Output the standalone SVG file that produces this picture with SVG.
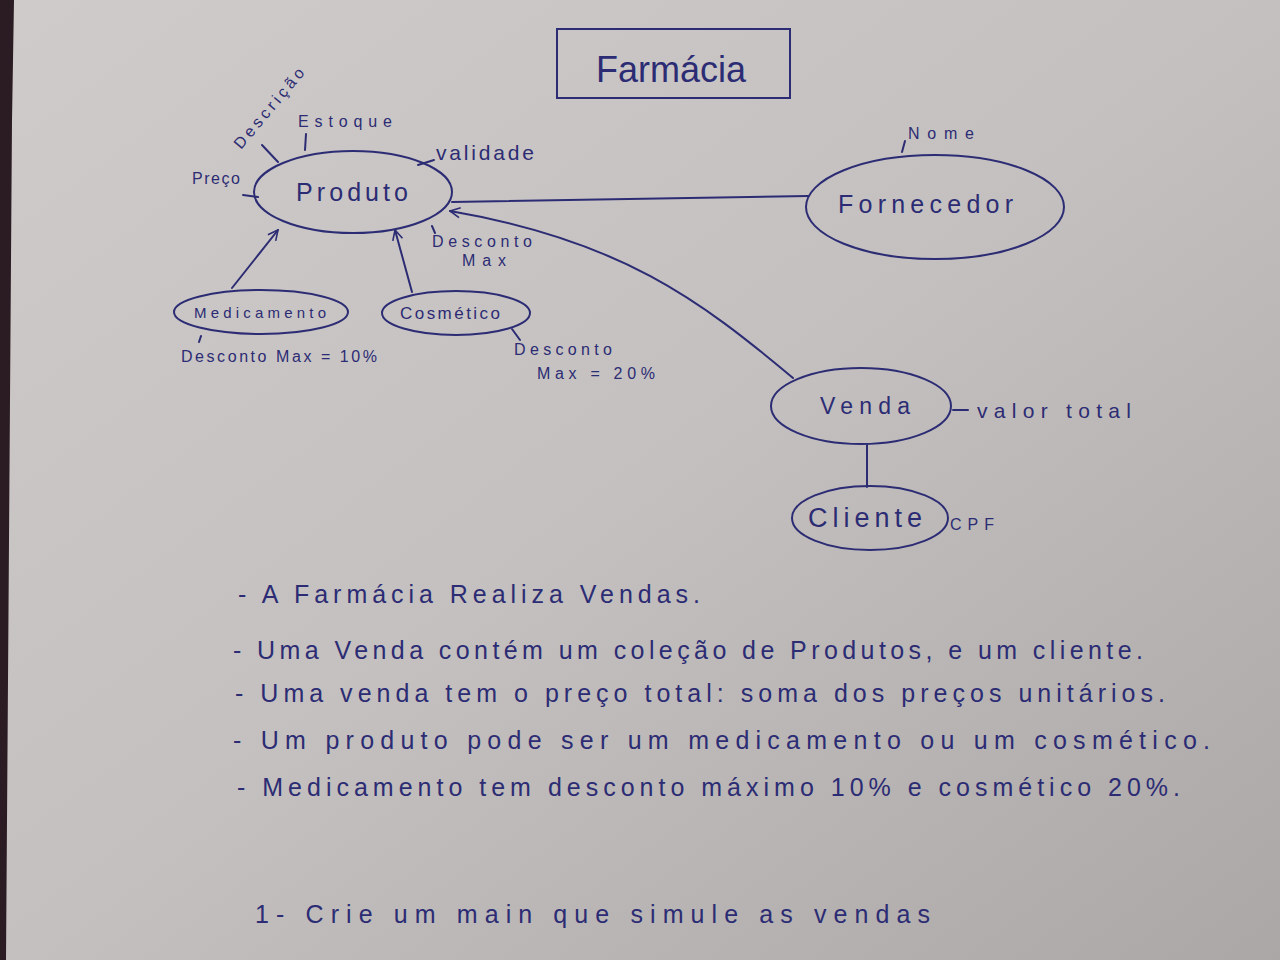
<svg xmlns="http://www.w3.org/2000/svg" width="1280" height="960" viewBox="0 0 1280 960">
<defs>
<linearGradient id="paper" x1="0" y1="0" x2="1" y2="1">
<stop offset="0" stop-color="#cfcbca"/>
<stop offset="0.5" stop-color="#c4c0bf"/>
<stop offset="1" stop-color="#aba7a7"/>
</linearGradient>
<marker id="open" viewBox="0 0 12 12" refX="11" refY="6" markerWidth="12" markerHeight="12" markerUnits="userSpaceOnUse" orient="auto">
<path d="M1,1 L11,6 L1,11" fill="none" stroke="#2c2c74" stroke-width="1.6"/>
</marker>
<style>
.ink{fill:none;stroke:#2c2c74;stroke-width:2;stroke-linecap:round}
.t{font-family:"Liberation Sans",Arial,sans-serif;fill:#2c2c74}
.node{font-size:25px}
.attr{font-size:16px}
.note{font-size:25px}
</style>
</defs>
<rect width="1280" height="960" fill="url(#paper)"/>
<path d="M0,0 L14,0 L12,120 L6,960 L0,960 Z" fill="#2a1c22"/>

<g id="title">
<rect class="ink" x="557" y="29" width="233" height="69"/>
<text class="t" x="596" y="82" font-size="36" textLength="150" lengthAdjust="spacing">Farmácia</text>
</g>

<g id="connectors">
<path class="ink" d="M452,202 L808,196"/>
<path class="ink" d="M793,378 C700,300 620,240 450,211" marker-end="url(#open)"/>
<path class="ink" d="M232,288 L278,230" marker-end="url(#open)"/>
<path class="ink" d="M412,292 L395,230" marker-end="url(#open)"/>
<path class="ink" d="M867,445 L867,487"/>
</g>

<g id="produto">
<ellipse class="ink" cx="353" cy="192" rx="99" ry="41"/>
<text class="t node" x="296" y="201" textLength="112" lengthAdjust="spacing">Produto</text>
<path class="ink" d="M243,195 L258,197 M262,145 L278,162 M306,134 L305,150 M418,165 L434,160 M432,226 L435,233"/>
<text class="t attr" x="192" y="184" textLength="48" lengthAdjust="spacing">Preço</text>
<text class="t attr" transform="translate(241,150) rotate(-50)" textLength="100" lengthAdjust="spacing">Descrição</text>
<text class="t attr" x="298" y="127" textLength="94" lengthAdjust="spacing">Estoque</text>
<text class="t" x="436" y="160" font-size="21" textLength="98" lengthAdjust="spacing">validade</text>
<text class="t attr" x="432" y="247" textLength="100" lengthAdjust="spacing">Desconto</text>
<text class="t attr" x="462" y="266" textLength="44" lengthAdjust="spacing">Max</text>
</g>

<g id="fornecedor">
<ellipse class="ink" cx="935" cy="207" rx="129" ry="52"/>
<text class="t node" x="838" y="213" textLength="175" lengthAdjust="spacing">Fornecedor</text>
<path class="ink" d="M902,152 L905,141"/>
<text class="t attr" x="908" y="139" textLength="66" lengthAdjust="spacing">Nome</text>
</g>

<g id="medicamento">
<ellipse class="ink" cx="261" cy="312" rx="87" ry="22"/>
<text class="t" x="194" y="318" font-size="15" textLength="132" lengthAdjust="spacing">Medicamento</text>
<path class="ink" d="M201,336 L199,342"/>
<text class="t attr" x="181" y="362" textLength="196" lengthAdjust="spacing">Desconto Max = 10%</text>
</g>

<g id="cosmetico">
<ellipse class="ink" cx="456" cy="313" rx="74" ry="22"/>
<text class="t" x="400" y="319" font-size="17" textLength="100" lengthAdjust="spacing">Cosmético</text>
<path class="ink" d="M512,329 L520,340"/>
<text class="t attr" x="514" y="355" textLength="98" lengthAdjust="spacing">Desconto</text>
<text class="t attr" x="537" y="379" textLength="118" lengthAdjust="spacing">Max = 20%</text>
</g>

<g id="venda">
<ellipse class="ink" cx="861" cy="406" rx="90" ry="38"/>
<text class="t" x="820" y="414" font-size="23" textLength="90" lengthAdjust="spacing">Venda</text>
<path class="ink" d="M953,410 L968,410"/>
<text class="t" x="977" y="418" font-size="21" textLength="154" lengthAdjust="spacing">valor total</text>
</g>

<g id="cliente">
<ellipse class="ink" cx="870" cy="518" rx="78" ry="32"/>
<text class="t" x="808" y="527" font-size="27" textLength="114" lengthAdjust="spacing">Cliente</text>
<text class="t attr" x="950" y="530" textLength="44" lengthAdjust="spacing">CPF</text>
</g>

<g id="notes">
<text class="t note" x="238" y="603" textLength="462" lengthAdjust="spacing">- A Farmácia Realiza Vendas.</text>
<text class="t note" x="233" y="659" textLength="910" lengthAdjust="spacing">- Uma Venda contém um coleção de Produtos, e um cliente.</text>
<text class="t note" x="235" y="702" textLength="930" lengthAdjust="spacing">- Uma venda tem o preço total: soma dos preços unitários.</text>
<text class="t note" x="233" y="749" textLength="977" lengthAdjust="spacing">- Um produto pode ser um medicamento ou um cosmético.</text>
<text class="t note" x="237" y="796" textLength="943" lengthAdjust="spacing">- Medicamento tem desconto máximo 10% e cosmético 20%.</text>
<text class="t note" x="255" y="923" textLength="675" lengthAdjust="spacing">1- Crie um main que simule as vendas</text>
</g>
</svg>
